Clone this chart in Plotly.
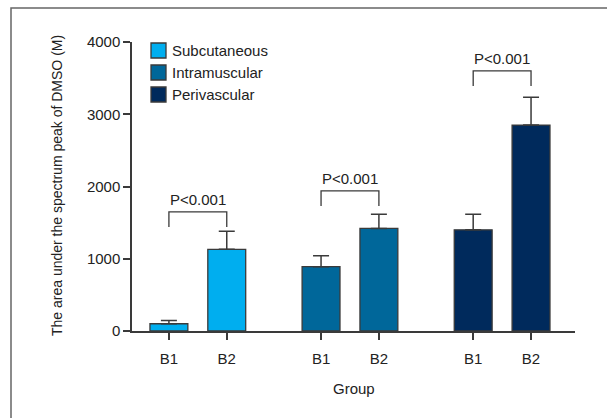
import plotly.graph_objects as go

# ---- data ----
series = ["Subcutaneous", "Intramuscular", "Perivascular"]
tick_labels = ["B1", "B2"]
means = {
    "Subcutaneous": [100, 1130],
    "Intramuscular": [890, 1420],
    "Perivascular": [1400, 2850],
}
errors = {
    "Subcutaneous": [45, 250],
    "Intramuscular": [150, 195],
    "Perivascular": [215, 385],
}
p_labels = ["P<0.001", "P<0.001", "P<0.001"]
bracket_levels = [1650, 1940, 3600]

# ---- styles ----
colors = {
    "Subcutaneous": "#00AEEF",
    "Intramuscular": "#00679A",
    "Perivascular": "#002A5C",
}
FONT = "Liberation Sans, Arial, sans-serif"
TXT = "#222"
EDGE = "#3a3a3a"
group_step = 2.63
bar_w = 0.655
leg = 210

W, H = 607, 418
ML, MR, MT, MB = 132, 32, 42, 87
PW, PH = W - ML - MR, H - MT - MB


def px(xp):
    return (xp - ML) / PW


def py(yp):
    return (H - MB - yp) / PH


fig = go.Figure()
tickvals, ticktext = [], []
for gi, s in enumerate(series):
    xs = [gi * group_step + k for k in range(len(tick_labels))]
    tickvals += xs
    ticktext += tick_labels
    fig.add_trace(go.Bar(
        x=xs, y=means[s], name=s, width=bar_w, showlegend=False,
        marker=dict(color=colors[s], line=dict(color=EDGE, width=1.3)),
        error_y=dict(type="data", array=errors[s], arrayminus=[0] * len(xs),
                     symmetric=False, color=EDGE, thickness=1.5, width=8),
    ))
    # significance bracket
    lvl = bracket_levels[gi]
    fig.add_shape(type="path", xref="x", yref="y",
                  path=f"M {xs[0]},{lvl - leg} L {xs[0]},{lvl} L {xs[1]},{lvl} L {xs[1]},{lvl - leg}",
                  line=dict(color=EDGE, width=1.3))
    fig.add_annotation(x=(xs[0] + xs[1]) / 2, y=lvl, xref="x", yref="y",
                       text=p_labels[gi], showarrow=False, yanchor="bottom", yshift=2,
                       font=dict(family=FONT, size=15, color=TXT))

    # legend entry (custom)
    top = 43 + 22 * gi
    fig.add_shape(type="rect", xref="paper", yref="paper",
                  x0=px(151), x1=px(166), y0=py(top + 15), y1=py(top),
                  fillcolor=colors[s], line=dict(color=EDGE, width=1.3))
    fig.add_annotation(text=s, xref="paper", yref="paper", x=px(170), y=py(top + 7.5),
                       xanchor="left", yanchor="middle", showarrow=False,
                       font=dict(family=FONT, size=15, color=TXT))

# frame around figure (left and top visible)
fig.add_shape(type="rect", xref="paper", yref="paper",
              x0=px(11), x1=px(700), y0=py(600), y1=py(8),
              line=dict(color="#666", width=1.5))

fig.add_annotation(text="The area under the spectrum peak of DMSO (M)",
                   xref="paper", yref="paper", x=px(57), y=py(186), textangle=-90,
                   xanchor="center", yanchor="middle",
                   showarrow=False, font=dict(family=FONT, size=14, color=TXT))
fig.add_annotation(text="Group", xref="paper", yref="paper", x=0.5, y=py(388),
                   xanchor="center", yanchor="middle",
                   showarrow=False, font=dict(family=FONT, size=15, color=TXT))

axis_common = dict(showline=True, linecolor=EDGE, linewidth=1.5,
                   ticks="outside", ticklen=7, tickcolor=EDGE, tickwidth=1.5,
                   showgrid=False, zeroline=False,
                   tickfont=dict(family=FONT, size=15, color=TXT))

fig.update_layout(
    width=W, height=H,
    margin=dict(l=ML, r=MR, t=MT, b=MB),
    paper_bgcolor="white", plot_bgcolor="white",
    barmode="overlay",
    font=dict(family=FONT, size=15, color=TXT),
    showlegend=False,
    xaxis=dict(range=[-0.638, 7.02], tickvals=tickvals, ticktext=ticktext,
               ticklabelstandoff=6, **axis_common),
    yaxis=dict(range=[0, 4000], tickvals=[0, 1000, 2000, 3000, 4000],
               **axis_common),
)

fig.write_html("out.html")
